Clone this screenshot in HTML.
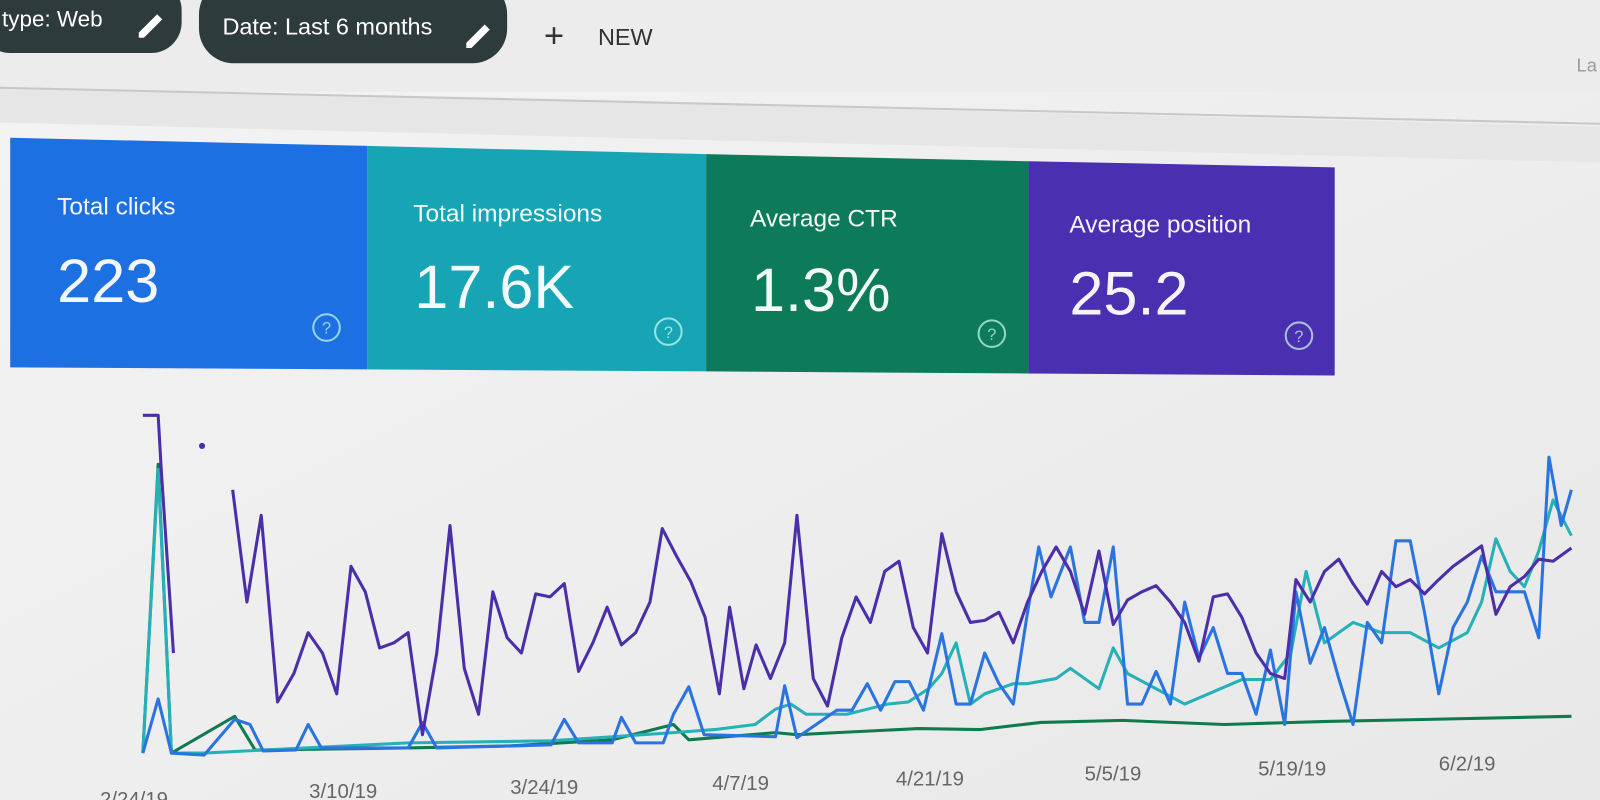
<!DOCTYPE html>
<html><head><meta charset="utf-8"><style>
html,body{margin:0;padding:0;width:1600px;height:800px;overflow:hidden;background:#f2f2f2;font-family:"Liberation Sans",sans-serif}
</style></head><body>
<svg width="1600" height="800" viewBox="0 0 1600 800" xmlns="http://www.w3.org/2000/svg">
<defs><linearGradient id="bg" x1="0" y1="0" x2="1" y2="1"><stop offset="0" stop-color="#f4f4f4"/><stop offset="1" stop-color="#e8e8e8"/></linearGradient></defs>
<rect width="1600" height="800" fill="url(#bg)"/>
<g transform="scale(1.0204)">
<rect width="1600" height="90" fill="#ececec"/>
<polygon points="0,85 1600,125 1600,160 0,120" fill="#e6e6e6"/>
<line x1="0" y1="86" x2="1600" y2="122" stroke="#c8c8c8" stroke-width="2"/>
<rect x="-20" y="-20" width="198" height="72" rx="30" fill="#2e3b3c"/>
<text x="2" y="26" fill="#fff" font-size="22">type: Web</text>
<path d="M136 32 l18 -18 l5 5 l-18 18 h-5z" fill="#fff"/>
<rect x="195" y="-20" width="302" height="82" rx="34" fill="#2e3b3c"/>
<text x="218" y="34" fill="#fff" font-size="23">Date: Last 6 months</text>
<path d="M457 42 l18 -18 l5 5 l-18 18 h-5z" fill="#fff"/>
<text x="533" y="46" fill="#333" font-size="34">+</text>
<text x="586" y="44" fill="#333" font-size="23">NEW</text>
<text x="1545" y="70" fill="#999" font-size="18">La</text>
<polygon points="10,135 360,143 360,362 10,360" fill="#1c70e2"/>
<polygon points="360,143 692,151 692,364 360,362" fill="#17a5b5"/>
<polygon points="692,151 1008,158 1008,366 692,364" fill="#0d7a5a"/>
<polygon points="1008,158 1308,164 1308,368 1008,366" fill="#4a2fb0"/>
<g fill="#fff" opacity="0.95">
<text x="56" y="210" font-size="24">Total clicks</text>
<text x="56" y="296" font-size="60">223</text>
<text x="405" y="217" font-size="24">Total impressions</text>
<text x="406" y="302" font-size="60">17.6K</text>
<text x="735" y="222" font-size="24">Average CTR</text>
<text x="736" y="305" font-size="60">1.3%</text>
<text x="1048" y="228" font-size="24">Average position</text>
<text x="1048" y="308" font-size="60">25.2</text>
</g>
<g fill="none" stroke="#cfe" stroke-width="2" opacity="0.7">
<circle cx="320" cy="321" r="13"/><circle cx="655" cy="325" r="13"/><circle cx="972" cy="327" r="13"/><circle cx="1273" cy="329" r="13"/>
</g>
<g fill="#cfe" opacity="0.7" font-size="16" text-anchor="middle">
<text x="320" y="327">?</text><text x="655" y="331">?</text><text x="972" y="333">?</text><text x="1273" y="335">?</text>
</g>
<g fill="none" stroke-width="3" stroke-linejoin="round">
<polyline stroke="#0f7a4e" points="140,738 155,455 168,738 230,702 250,735 400,733 500,731 600,725 660,710 675,725 760,718 781,720 820,718 900,714 960,715 1020,708 1100,706 1200,710 1300,707 1400,705 1540,702"/>
<polyline stroke="#26b0b8" points="140,738 155,460 168,738 200,738 240,736 300,733 400,728 540,726 600,722 660,718 700,715 740,710 760,695 775,690 790,700 830,700 850,695 870,690 890,688 910,675 923,660 937,630 951,690 965,680 979,675 993,670 1007,670 1035,665 1049,655 1063,665 1077,675 1091,635 1105,660 1133,675 1161,690 1189,678 1217,666 1245,666 1265,640 1280,560 1298,630 1326,610 1354,620 1382,620 1410,635 1438,620 1452,590 1466,528 1480,560 1494,575 1508,540 1522,490 1540,525"/>
<polyline stroke="#2a74e0" points="140,738 155,685 168,738 200,740 230,705 245,710 258,736 290,735 302,710 315,733 400,733 414,708 428,733 540,730 553,705 567,728 600,728 609,703 623,728 650,728 660,700 675,673 690,720 760,722 769,672 781,723 820,696 835,696 850,670 863,696 877,668 891,668 905,696 923,621 937,690 951,690 965,640 979,670 993,690 1007,600 1018,536 1030,585 1049,536 1063,610 1077,610 1091,536 1105,690 1119,690 1133,658 1147,690 1161,590 1175,645 1189,615 1203,660 1217,660 1231,700 1245,637 1259,710 1270,580 1284,650 1298,615 1312,665 1326,710 1340,610 1354,630 1368,530 1382,530 1396,600 1410,680 1424,615 1438,590 1452,545 1466,580 1480,580 1494,580 1508,625 1518,448 1530,515 1540,480"/>
<polyline stroke="#4b2ea8" points="140,407 155,407 158,460 170,640"/>
<polyline stroke="#4b2ea8" points="228,480 242,590 256,505 272,688 288,660 302,620 316,640 330,680 344,555 358,580 372,635 386,630 400,620 414,720 428,640 441,515 455,655 469,700 483,580 497,625 511,640 525,582 539,585 553,572 567,658 581,630 595,595 609,632 623,620 637,590 649,518 663,545 677,570 691,605 705,680 715,595 729,675 741,632 755,665 769,630 781,505 797,665 811,692 825,625 839,585 853,610 867,560 881,550 895,615 909,640 923,523 937,580 951,610 965,608 979,600 993,630 1007,590 1021,560 1035,536 1049,560 1063,602 1077,540 1091,612 1105,588 1119,580 1133,574 1147,590 1161,610 1175,648 1189,585 1203,582 1217,605 1231,640 1245,660 1259,665 1270,568 1284,590 1298,560 1312,548 1326,572 1340,592 1354,560 1368,575 1382,568 1396,582 1410,568 1424,555 1438,545 1452,535 1466,602 1480,575 1494,565 1508,548 1522,550 1540,537"/>
</g>
<circle cx="198" cy="437" r="3" fill="#4b2ea8"/>
<g fill="#666" font-size="20">
<text x="98" y="790">2/24/19</text>
<text x="303" y="782">3/10/19</text>
<text x="500" y="778">3/24/19</text>
<text x="698" y="774">4/7/19</text>
<text x="878" y="770">4/21/19</text>
<text x="1063" y="765">5/5/19</text>
<text x="1233" y="760">5/19/19</text>
<text x="1410" y="755">6/2/19</text>
</g>
</g>
</svg>
</body></html>
